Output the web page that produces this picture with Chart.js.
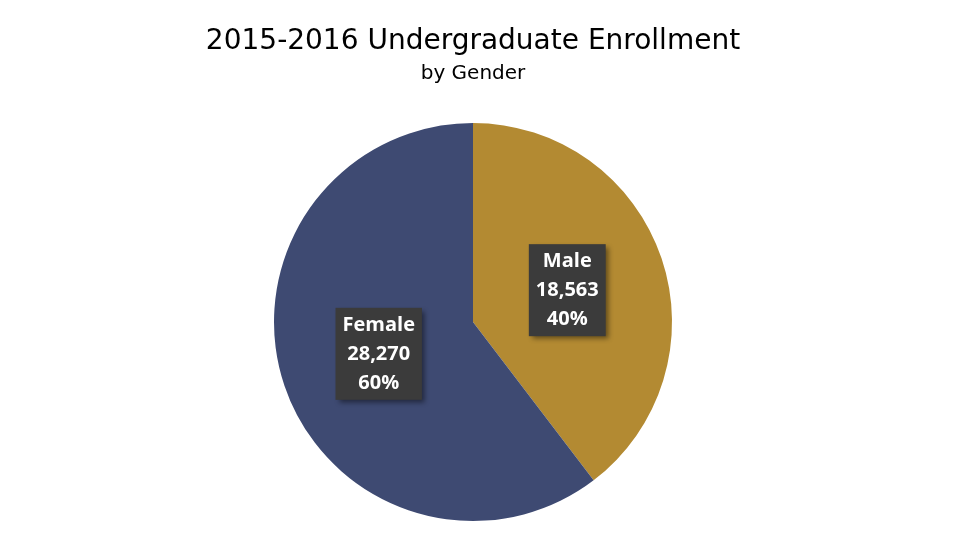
<!DOCTYPE html>
<html>
<head>
<meta charset="utf-8">
<script src="https://cdn.jsdelivr.net/npm/chart.js@4"></script>
<style>
  html, body { margin: 0; padding: 0; background: #fff; }
  #wrap { width: 960px; height: 540px; }
</style>
</head>
<body>
<div id="wrap"><canvas id="pie_canvas" width="960" height="540"></canvas></div>
<script>
var categories = ['Male', 'Female'];
var enrollment = [18563, 28270];
var percents = ['40%', '60%'];
var sliceColors = ['#B38A32', '#3E4A72'];

// title drawn by hand so the pie can sit where it sits in the original
var titlePlugin = {
  id: 'titles',
  afterDraw: function(chart) {
    var c = chart.ctx;
    c.save();
    c.fillStyle = '#000';
    c.textAlign = 'center';
    c.textBaseline = 'middle';
    c.font = '28px "DejaVu Sans"';
    c.fillText('2015-2016 Undergraduate Enrollment', 473, 42);
    c.font = '20px "DejaVu Sans"';
    c.fillText('by Gender', 473, 74);
    c.restore();
  }
};

var boxLabels = {
  id: 'boxLabels',
  afterDatasetsDraw: function(chart) {
    var c = chart.ctx;
    var meta = chart.getDatasetMeta(0);
    meta.data.forEach(function(arc, i) {
      var p = arc.tooltipPosition();
      var lines = [categories[i], enrollment[i].toLocaleString('en-US'), percents[i]];
      c.save();
      c.font = 'bold 20px "Open Sans"';
      var w = 0;
      lines.forEach(function(l) { w = Math.max(w, c.measureText(l).width); });
      w += 14;
      var h = 92;
      c.shadowColor = 'rgba(0,0,0,0.45)';
      c.shadowBlur = 5;
      c.shadowOffsetX = 3;
      c.shadowOffsetY = 3;
      c.fillStyle = '#3b3b3b';
      c.fillRect(p.x - w / 2, p.y - h / 2, w, h);
      c.shadowColor = 'transparent';
      c.fillStyle = '#fff';
      c.textAlign = 'center';
      c.textBaseline = 'middle';
      lines.forEach(function(l, k) {
        c.fillText(l, p.x, p.y - 29 + k * 29);
      });
      c.restore();
    });
  }
};

var ctx = document.getElementById('pie_canvas').getContext('2d');
var chart = new Chart(ctx, {
  type: 'pie',
  data: {
    labels: categories,
    datasets: [{
      data: enrollment,
      backgroundColor: sliceColors,
      borderWidth: 0
    }]
  },
  options: {
    responsive: false,
    animation: false,
    layout: { padding: { left: 274, right: 288, top: 123, bottom: 19 } },
    plugins: {
      legend: { display: false },
      tooltip: { enabled: false }
    }
  },
  plugins: [titlePlugin, boxLabels]
});
</script>
</body>
</html>
